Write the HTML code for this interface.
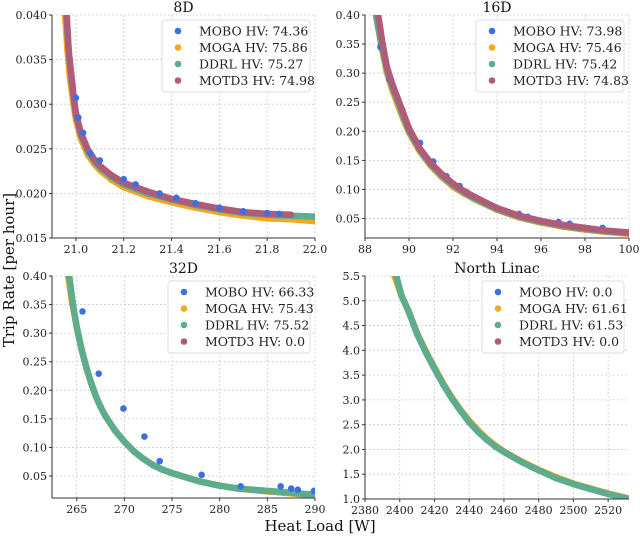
<!DOCTYPE html>
<html><head><meta charset="utf-8">
<style>
body{margin:0;background:#fff;}
svg{display:block;font-family:"DejaVu Serif","Liberation Serif",serif;}
</style></head>
<body>
<svg id="chart" width="640" height="539" viewBox="0 0 640 539"></svg>
<script>
// ---- data ----
const seriesNames = ["MOBO","MOGA","DDRL","MOTD3"];
const colors = ["#3c6fe0","#f6a821","#5dac8e","#b05c79"];

// 8D
const d8_moga_x = [20.955,20.965,20.975,20.99,21.0,21.02,21.05,21.08,21.1,21.15,21.2,21.3,21.4,21.5,21.6,21.7,21.8,21.9,22.0];
const d8_moga_y = [0.040,0.036,0.033,0.030,0.0283,0.0262,0.0243,0.0232,0.0226,0.0215,0.0207,0.0197,0.0190,0.0184,0.0179,0.0175,0.0172,0.0171,0.0169];
const d8_ddrl_x = [20.96,20.97,20.98,20.99,21.0,21.02,21.05,21.08,21.1,21.15,21.2,21.3,21.4,21.5,21.6,21.7,21.8,21.9,22.0];
const d8_ddrl_y = [0.040,0.036,0.033,0.031,0.0288,0.0266,0.0247,0.0235,0.0229,0.0218,0.0210,0.0200,0.0193,0.0187,0.0182,0.0178,0.0176,0.0175,0.0174];
const d8_motd3_x = [20.962,20.97,20.98,20.99,21.0,21.02,21.05,21.08,21.1,21.15,21.2,21.3,21.4,21.5,21.6,21.7,21.8,21.9];
const d8_motd3_y = [0.0398,0.036,0.0335,0.031,0.0290,0.0268,0.0249,0.0237,0.0231,0.0220,0.0212,0.0202,0.0194,0.0188,0.0183,0.0179,0.0177,0.0176];
const d8_mobo_x = [21.0,21.01,21.03,21.06,21.1,21.2,21.25,21.35,21.42,21.5,21.6,21.7,21.8,21.85];
const d8_mobo_y = [0.0307,0.0285,0.0268,0.0245,0.0237,0.0216,0.021,0.020,0.0195,0.0189,0.0184,0.018,0.0178,0.0177];

// 16D
const d16_moga_x = [88.5,88.75,89,89.25,89.5,89.75,90,90.5,91,91.5,92,92.5,93,94,95,96,97,98,99,100];
const d16_moga_y = [0.40,0.345,0.30,0.27,0.245,0.22,0.198,0.165,0.14,0.121,0.105,0.093,0.083,0.065,0.052,0.043,0.036,0.031,0.027,0.024];
const d16_ddrl_x = [88.5,88.75,89,89.25,89.5,89.75,90,90.5,91,91.5,92,92.5,93,94,95,96,97,98,99,100];
const d16_ddrl_y = [0.40,0.35,0.305,0.275,0.25,0.224,0.20,0.167,0.142,0.123,0.107,0.095,0.084,0.066,0.053,0.044,0.037,0.032,0.028,0.025];
const d16_motd3_x = [88.6,88.8,89,89.25,89.5,89.75,90,90.5,91,91.5,92,92.5,93,94,95,96,97,98,99,100];
const d16_motd3_y = [0.40,0.35,0.31,0.28,0.255,0.23,0.205,0.17,0.145,0.126,0.11,0.097,0.087,0.068,0.055,0.046,0.039,0.034,0.029,0.026];
const d16_mobo_x = [88.7,89.1,89.7,90.5,91.1,91.7,92.3,92.6,95,95.4,96.8,97.3,98.8];
const d16_mobo_y = [0.345,0.29,0.237,0.18,0.148,0.123,0.106,0.096,0.058,0.053,0.044,0.041,0.034];

// 32D
const d32_moga_x = [264.1,264.5,265,265.5,266,266.5,267,267.5,268,269,270,271,272,273,274,275,276,278,280,282,285,288,290];
const d32_moga_y = [0.40,0.355,0.31,0.272,0.24,0.213,0.19,0.171,0.155,0.13,0.11,0.093,0.08,0.069,0.061,0.055,0.050,0.040,0.033,0.028,0.023,0.019,0.016];
const d32_ddrl_x = [264.2,264.6,265,265.5,266,266.5,267,267.5,268,269,270,271,272,273,274,275,276,278,280,282,285,288,290];
const d32_ddrl_y = [0.40,0.35,0.31,0.272,0.24,0.213,0.19,0.171,0.155,0.13,0.11,0.093,0.08,0.069,0.061,0.055,0.050,0.040,0.033,0.028,0.024,0.020,0.017];
const d32_mobo_x = [265.6,267.3,269.9,272.1,273.7,278.1,282.2,286.4,287.5,288.2,289.9];
const d32_mobo_y = [0.338,0.229,0.168,0.119,0.076,0.052,0.032,0.032,0.028,0.026,0.024];

// North Linac
const nl_moga_x = [2397,2401,2405,2410,2415,2420,2425,2430,2435,2440,2445,2450,2455,2460,2470,2480,2490,2500,2510,2520,2532];
const nl_moga_y = [5.5,5.1,4.8,4.35,3.98,3.65,3.33,3.05,2.8,2.58,2.39,2.22,2.08,1.96,1.76,1.59,1.44,1.31,1.21,1.11,1.01];
const nl_ddrl_x = [2398,2401,2405,2410,2415,2420,2425,2430,2435,2440,2445,2450,2455,2460,2470,2480,2490,2500,2510,2520,2530];
const nl_ddrl_y = [5.5,5.1,4.8,4.33,3.96,3.63,3.31,3.03,2.78,2.55,2.36,2.2,2.06,1.95,1.75,1.58,1.42,1.3,1.2,1.1,1.02];

const titles = ["8D","16D","32D","North Linac"];
const legendVals = [["74.36","75.86","75.27","74.98"],["73.98","75.46","75.42","74.83"],["66.33","75.43","75.52","0.0"],["0.0","61.61","61.53","0.0"]];
const xTicks = [[21.0,21.2,21.4,21.6,21.8,22.0],[88,90,92,94,96,98,100],[265,270,275,280,285,290],[2380,2400,2420,2440,2460,2480,2500,2520]];
const xTickLabels = [["21.0","21.2","21.4","21.6","21.8","22.0"],["88","90","92","94","96","98","100"],["265","270","275","280","285","290"],["2380","2400","2420","2440","2460","2480","2500","2520"]];
const yTicks = [[0.015,0.020,0.025,0.030,0.035,0.040],[0.05,0.10,0.15,0.20,0.25,0.30,0.35,0.40],[0.05,0.10,0.15,0.20,0.25,0.30,0.35,0.40],[1.0,1.5,2.0,2.5,3.0,3.5,4.0,4.5,5.0,5.5]];
const yTickLabels = [["0.015","0.020","0.025","0.030","0.035","0.040"],["0.05","0.10","0.15","0.20","0.25","0.30","0.35","0.40"],["0.05","0.10","0.15","0.20","0.25","0.30","0.35","0.40"],["1.0","1.5","2.0","2.5","3.0","3.5","4.0","4.5","5.0","5.5"]];
const xDomains = [[20.9,22.0],[88,100],[262.4,290],[2380,2532]];
const yDomains = [[0.015,0.040],[0.0166,0.40],[0.0115,0.40],[1.0,5.5]];

// ---- layout ----
const boxes = [
  {x0:52,x1:315,y0:15,y1:238,lx:162,ly:20},
  {x0:365,x1:629,y0:15,y1:238,lx:476,ly:20},
  {x0:52,x1:315,y0:276,y1:498,lx:168,ly:281},
  {x0:365,x1:629,y0:276,y1:499,lx:482,ly:281}
];
const svg = document.getElementById('chart');
const NS = "http://www.w3.org/2000/svg";
function mk(tag, attrs, parent){const e=document.createElementNS(NS,tag);for(const k in attrs)e.setAttribute(k,attrs[k]);parent.appendChild(e);return e;}

const panelSeries = [
  [[d8_moga_x,d8_moga_y,1],[d8_ddrl_x,d8_ddrl_y,2],[d8_motd3_x,d8_motd3_y,3],[d8_mobo_x,d8_mobo_y,0,true]],
  [[d16_moga_x,d16_moga_y,1],[d16_ddrl_x,d16_ddrl_y,2],[d16_mobo_x,d16_mobo_y,0,true],[d16_motd3_x,d16_motd3_y,3]],
  [[d32_moga_x,d32_moga_y,1],[d32_ddrl_x,d32_ddrl_y,2],[d32_mobo_x,d32_mobo_y,0,true]],
  [[nl_moga_x,nl_moga_y,1],[nl_ddrl_x,nl_ddrl_y,2]]
];
const seriesKeys = ["mobo","moga","ddrl","motd3"];

boxes.forEach((b,p)=>{
  const g = mk('g',{},svg);
  
  
  const [xa,xb]=xDomains[p],[ya,yb]=yDomains[p];
  const sx=v=>b.x0+(v-xa)/(xb-xa)*(b.x1-b.x0);
  const sy=v=>b.y1-(v-ya)/(yb-ya)*(b.y1-b.y0);
  const clipId='clip'+p;
  const cp=mk('clipPath',{id:clipId},g);mk('rect',{x:b.x0,y:b.y0,width:b.x1-b.x0,height:b.y1-b.y0},cp);
  xTicks[p].forEach((t,i)=>{const x=sx(t);
    const gl=mk('line',{x1:x,x2:x,y1:b.y0,y2:b.y1,stroke:'#ccc','stroke-width':0.8,'stroke-dasharray':'2,2'},g);
    
    mk('line',{x1:x,x2:x,y1:b.y1,y2:b.y1+3,stroke:'#333'},g);
    const tl=mk('text',{x:x,y:b.y1+15,'text-anchor':'middle','font-size':11,fill:'#222'},g);tl.textContent=xTickLabels[p][i];
    
  });
  yTicks[p].forEach((t,i)=>{const y=sy(t);
    const gl=mk('line',{x1:b.x0,x2:b.x1,y1:y,y2:y,stroke:'#ccc','stroke-width':0.8,'stroke-dasharray':'2,2'},g);
    
    mk('line',{x1:b.x0-3,x2:b.x0,y1:y,y2:y,stroke:'#333'},g);
    const tl=mk('text',{x:b.x0-5,y:y+4,'text-anchor':'end','font-size':11,fill:'#222'},g);tl.textContent=yTickLabels[p][i];
    
  });
  const sg=mk('g',{'clip-path':'url(#'+clipId+')'},g);
  panelSeries[p].forEach(s=>{
    const [xs,ys,ci,scatterOnly]=s;const c=colors[ci];
    if(!scatterOnly){
      const pts=xs.map((v,i)=>sx(v).toFixed(1)+','+sy(ys[i]).toFixed(1)).join(' ');
      const pl=mk('polyline',{points:pts,fill:'none',stroke:c,'stroke-width':6.5,'stroke-linecap':'round','stroke-linejoin':'round'},sg);
      
    }
    xs.forEach((v,i)=>{
      const d=mk('circle',{cx:sx(v),cy:sy(ys[i]),r:3.3,fill:c},sg);
      
    });
  });
  mk('line',{x1:b.x0,x2:b.x0,y1:b.y0,y2:b.y1,stroke:'#333','stroke-width':1},g);
  mk('line',{x1:b.x0,x2:b.x1,y1:b.y1,y2:b.y1,stroke:'#333','stroke-width':1},g);
  const tt=mk('text',{x:(b.x0+b.x1)/2,y:b.y0-3,'text-anchor':'middle','font-size':14,fill:'#111'},g);tt.textContent=titles[p];
  
  const lg=mk('g',{},g);
  const lw=(b.x1-5)-b.lx;
  mk('rect',{x:b.lx,y:b.ly,width:lw,height:72,rx:3,fill:'#fff','fill-opacity':0.85,stroke:'#ddd'},lg);
  seriesNames.forEach((n,i)=>{
    const yy=b.ly+11+i*16.5;
    const e=mk('g',{},lg);
    mk('circle',{cx:b.lx+16,cy:yy,r:3.3,fill:colors[i]},e);
    const t=mk('text',{x:b.lx+37,y:yy+4.5,'font-size':12.5,fill:'#222'},e);t.textContent=n+' HV: '+legendVals[p][i];
  });
});
const xl=mk('text',{x:320,y:531,'text-anchor':'middle','font-size':15,fill:'#111'},svg);xl.textContent='Heat Load [W]';

const yl=mk('text',{x:14,y:270,'text-anchor':'middle','font-size':15,fill:'#111',transform:'rotate(-90 14 270)'},svg);yl.textContent='Trip Rate [per hour]';

</script>
</body></html>
